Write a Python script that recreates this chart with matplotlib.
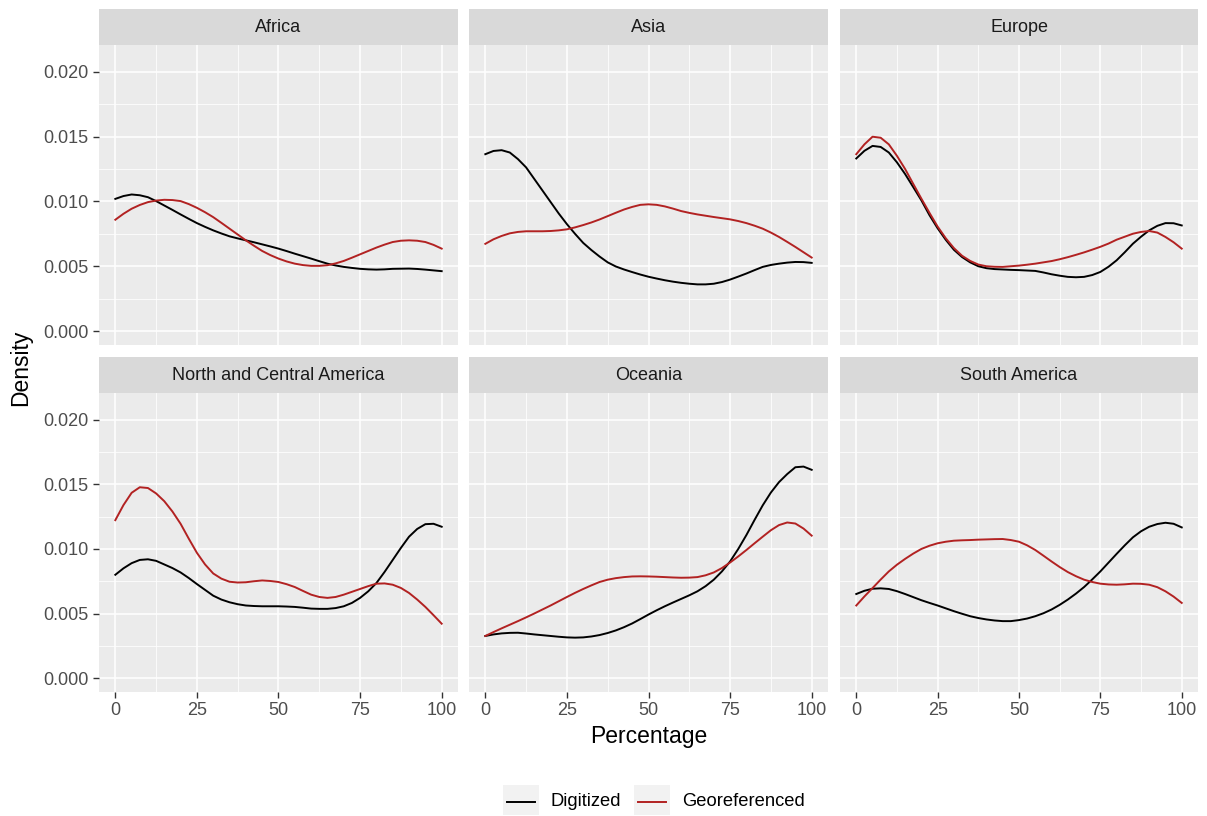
import numpy as np
import matplotlib
matplotlib.use("Agg")
import matplotlib.pyplot as plt
from matplotlib.patches import Rectangle
from matplotlib.lines import Line2D

plt.rcParams['font.family'] = ['Liberation Sans', 'DejaVu Sans']

# percentage positions where the density curves were read
pct = [0, 2.5, 5, 7.5, 10, 12.5, 15, 17.5, 20, 22.5, 25, 27.5, 30, 32.5, 35, 37.5, 40, 42.5, 45, 47.5,
       50, 52.5, 55, 57.5, 60, 62.5, 65, 67.5, 70, 72.5, 75, 77.5, 80, 82.5, 85, 87.5, 90, 92.5, 95, 97.5, 100]

regions = ["Africa", "Asia", "Europe",
           "North and Central America", "Oceania", "South America"]

africa_dig = [0.0102, 0.01042, 0.01054, 0.01048, 0.01033, 0.01003, 0.00969, 0.00935, 0.0090, 0.00866,
              0.00833, 0.00804, 0.00777, 0.00753, 0.00731, 0.00715, 0.0070, 0.00685, 0.00669, 0.00653,
              0.00636, 0.00617, 0.00597, 0.00578, 0.00559, 0.00539, 0.0052, 0.00506, 0.00495, 0.00487,
              0.0048, 0.00476, 0.00474, 0.00476, 0.0048, 0.00481, 0.00482, 0.00479, 0.00474, 0.00468, 0.00462]
africa_geo = [0.00859, 0.00905, 0.00944, 0.00973, 0.00995, 0.01007, 0.01013, 0.01011, 0.01003, 0.0098,
              0.00951, 0.00917, 0.00879, 0.00835, 0.0079, 0.00745, 0.0070, 0.00658, 0.00618, 0.00586,
              0.00559, 0.00537, 0.0052, 0.00509, 0.00503, 0.00503, 0.00508, 0.00522, 0.00541, 0.00566,
              0.00592, 0.00618, 0.00644, 0.00667, 0.00687, 0.00697, 0.0070, 0.00697, 0.00687, 0.00665, 0.00636]

asia_dig = [0.01365, 0.0139, 0.01396, 0.01378, 0.01327, 0.01263, 0.01174, 0.01085, 0.00996, 0.00907,
            0.00825, 0.0075, 0.0068, 0.00625, 0.00575, 0.0053, 0.00498, 0.00475, 0.00455, 0.00436,
            0.00419, 0.00405, 0.00392, 0.00381, 0.00372, 0.00365, 0.0036, 0.0036, 0.00365, 0.00378,
            0.00397, 0.0042, 0.00444, 0.0047, 0.00495, 0.0051, 0.0052, 0.00528, 0.00533, 0.00532, 0.00526]
asia_geo = [0.00673, 0.00708, 0.00734, 0.00754, 0.00765, 0.0077, 0.0077, 0.0077, 0.00772, 0.00777,
            0.00785, 0.008, 0.00818, 0.00838, 0.00861, 0.00887, 0.00913, 0.00938, 0.00958, 0.00974,
            0.00978, 0.00974, 0.00962, 0.00945, 0.00926, 0.00912, 0.0090, 0.0089, 0.0088, 0.00871,
            0.00862, 0.00849, 0.00833, 0.00813, 0.0079, 0.0076, 0.00726, 0.00688, 0.00649, 0.00608, 0.00567]

europe_dig = [0.01332, 0.01391, 0.01429, 0.01421, 0.01378, 0.01302, 0.01212, 0.01111, 0.01009, 0.00894,
              0.00793, 0.00704, 0.00627, 0.00571, 0.0053, 0.005, 0.00485, 0.00478, 0.00475, 0.00472,
              0.0047, 0.00467, 0.00464, 0.00452, 0.00438, 0.00427, 0.00418, 0.00415, 0.00418, 0.00432,
              0.00456, 0.00496, 0.00546, 0.00608, 0.00674, 0.00728, 0.00777, 0.00812, 0.00833, 0.00832, 0.00815]
europe_geo = [0.01365, 0.01441, 0.015, 0.01492, 0.01441, 0.01352, 0.01251, 0.01136, 0.01022, 0.00912,
              0.00806, 0.00716, 0.0064, 0.00581, 0.00541, 0.00513, 0.005, 0.00496, 0.00495, 0.005,
              0.00505, 0.00512, 0.0052, 0.0053, 0.0054, 0.00554, 0.0057, 0.00588, 0.00607, 0.00628,
              0.0065, 0.00675, 0.00705, 0.00728, 0.00751, 0.00765, 0.00772, 0.0076, 0.00726, 0.00685, 0.00636]

nca_dig = [0.008, 0.0085, 0.0089, 0.00915, 0.0092, 0.00908, 0.0088, 0.00852, 0.00818, 0.00775,
           0.00728, 0.00683, 0.00638, 0.00608, 0.00587, 0.00572, 0.00562, 0.00558, 0.00556, 0.00556,
           0.00556, 0.00554, 0.00551, 0.00545, 0.00538, 0.00536, 0.00536, 0.00542, 0.00556, 0.00582,
           0.00621, 0.00672, 0.00736, 0.00822, 0.00915, 0.01008, 0.01095, 0.01155, 0.01192, 0.01195, 0.01172]
nca_geo = [0.01223, 0.0134, 0.01435, 0.01478, 0.01472, 0.0143, 0.0137, 0.0129, 0.01195, 0.0108,
           0.0097, 0.0088, 0.0081, 0.0077, 0.00746, 0.0074, 0.00742, 0.0075, 0.00756, 0.00752,
           0.00744, 0.00727, 0.00705, 0.00675, 0.00646, 0.00628, 0.00621, 0.00628, 0.00646, 0.00668,
           0.0069, 0.00712, 0.00731, 0.00733, 0.00723, 0.00698, 0.00659, 0.00608, 0.00551, 0.00487, 0.00421]

oceania_dig = [0.00326, 0.00338, 0.00346, 0.0035, 0.00351, 0.00345, 0.00338, 0.00332, 0.00326, 0.0032,
               0.00315, 0.00313, 0.00315, 0.00322, 0.00333, 0.00349, 0.00369, 0.00394, 0.00423, 0.00457,
               0.00492, 0.00525, 0.00556, 0.00585, 0.00613, 0.00641, 0.00672, 0.00712, 0.00762, 0.00826,
               0.00903, 0.01, 0.01108, 0.01225, 0.01338, 0.01437, 0.01518, 0.0158, 0.01633, 0.01638, 0.01613]
oceania_geo = [0.00326, 0.00356, 0.00385, 0.00413, 0.00441, 0.0047, 0.005, 0.00531, 0.00562, 0.00595,
               0.00628, 0.0066, 0.0069, 0.00718, 0.00744, 0.00762, 0.00774, 0.00782, 0.00787, 0.00788,
               0.00787, 0.00785, 0.00782, 0.00779, 0.00777, 0.00778, 0.00782, 0.00796, 0.00818, 0.00852,
               0.00895, 0.00942, 0.00992, 0.01044, 0.01095, 0.01145, 0.01185, 0.01205, 0.01197, 0.01158, 0.01103]

samerica_dig = [0.00651, 0.00676, 0.00692, 0.00695, 0.0069, 0.00673, 0.00651, 0.00627, 0.00603, 0.00582,
                0.00562, 0.0054, 0.00518, 0.00498, 0.00479, 0.00465, 0.00454, 0.00446, 0.00441, 0.00441,
                0.00449, 0.00461, 0.00479, 0.00502, 0.00531, 0.00567, 0.00608, 0.00654, 0.00705, 0.00764,
                0.00826, 0.00894, 0.00962, 0.01028, 0.0109, 0.01137, 0.01172, 0.01193, 0.01203, 0.01195, 0.01167]
samerica_geo = [0.00562, 0.00632, 0.00697, 0.00763, 0.00826, 0.00878, 0.00923, 0.00964, 0.01, 0.01025,
                0.01044, 0.01056, 0.01064, 0.01067, 0.01069, 0.01072, 0.01074, 0.01076, 0.01077, 0.01069,
                0.01056, 0.01028, 0.00992, 0.00948, 0.00903, 0.0086, 0.00821, 0.00789, 0.00762, 0.00744,
                0.00731, 0.00725, 0.00723, 0.00726, 0.00731, 0.0073, 0.00723, 0.00704, 0.00672, 0.00631, 0.00582]

digitized = [africa_dig, asia_dig, europe_dig, nca_dig, oceania_dig, samerica_dig]
georef = [africa_geo, asia_geo, europe_geo, nca_geo, oceania_geo, samerica_geo]

series_names = ["Digitized", "Georeferenced"]
series_colors = ["black", "#B22222"]

W, H = 1207, 816
fig = plt.figure(figsize=(W / 100, H / 100), dpi=100)


def box(x0, y0, x1, y1):
    # pixel box (top-left origin) -> figure fraction rect
    return [x0 / W, 1 - y1 / H, (x1 - x0) / W, (y1 - y0) / H]


col_x = [(99, 458), (469, 828), (840, 1198)]
row_y = [((9, 45), (45, 345)), ((357, 393), (393, 692))]

for i, name in enumerate(regions):
    r, c = divmod(i, 3)
    (sy0, sy1), (py0, py1) = row_y[r]
    x0, x1 = col_x[c]

    ax = fig.add_axes(box(x0, py0, x1, py1))
    ax.set_facecolor("#EBEBEB")
    ax.set_xlim(-5, 105)
    ax.set_ylim(-0.00108, 0.02208)
    ax.set_xticks([0, 25, 50, 75, 100])
    ax.set_xticks([12.5, 37.5, 62.5, 87.5], minor=True)
    ax.set_yticks([0, 0.005, 0.010, 0.015, 0.020])
    ax.set_yticks([0.0025, 0.0075, 0.0125, 0.0175], minor=True)
    ax.grid(True, which="major", color="white", linewidth=1.1)
    ax.grid(True, which="minor", color="white", linewidth=0.55)
    ax.set_axisbelow(True)
    for s in ax.spines.values():
        s.set_visible(False)
    ax.tick_params(which="minor", length=0)
    ax.tick_params(which="major", length=4.1, width=1.0, color="#333333",
                   labelsize=13, labelcolor="#4D4D4D", pad=3.3)
    if c == 0:
        ax.set_yticklabels(["0.000", "0.005", "0.010", "0.015", "0.020"])
    else:
        ax.tick_params(axis="y", length=0, labelleft=False)
    if r == 1:
        ax.set_xticklabels(["0", "25", "50", "75", "100"])
    else:
        ax.tick_params(axis="x", length=0, labelbottom=False)

    ax.plot(pct, digitized[i], color=series_colors[0], linewidth=1.4)
    ax.plot(pct, georef[i], color=series_colors[1], linewidth=1.4)

    # facet strip
    sax = fig.add_axes(box(x0, sy0, x1, sy1))
    sax.set_facecolor("#D9D9D9")
    sax.set_xticks([])
    sax.set_yticks([])
    for s in sax.spines.values():
        s.set_visible(False)
    sax.text(0.5, 0.5, name, ha="center", va="center", fontsize=13,
             color="#1A1A1A", transform=sax.transAxes)

fig.text(649 / W, 1 - 737 / H, "Percentage", ha="center", va="center", fontsize=16.5)
fig.text(21 / W, 1 - 368 / H, "Density", ha="center", va="center", rotation=90, fontsize=16.5)

# legend at the bottom
key_x = [503, 634]
text_x = [550, 682]
for k in range(2):
    kx = key_x[k]
    fig.add_artist(Rectangle((kx / W, 1 - 815 / H), 36 / W, 30 / H,
                             transform=fig.transFigure, facecolor="#F2F2F2", edgecolor="none"))
    fig.add_artist(Line2D([(kx + 4) / W, (kx + 32) / W], [1 - 802 / H, 1 - 802 / H],
                          transform=fig.transFigure, color=series_colors[k], linewidth=1.4))
    fig.text(text_x[k] / W, 1 - 802 / H, series_names[k], ha="left", va="center",
             fontsize=13.2, color="black")

fig.savefig("out.png", dpi=100)
